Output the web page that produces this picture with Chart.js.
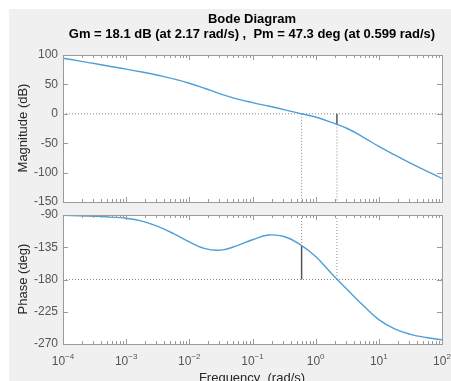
<!DOCTYPE html>
<html>
<head>
<meta charset="utf-8">
<script src="https://cdn.jsdelivr.net/npm/chart.js@4/dist/chart.umd.min.js"></script>
<style>
  html, body { margin:0; padding:0; background:#ffffff; width:451px; height:381px; overflow:hidden; }
  #fig { position:absolute; left:9px; top:9px; width:442px; height:372px; background:#f0f0f0; }
  canvas { position:absolute; left:0; top:0; }
  .txt { position:absolute; white-space:nowrap; font-family:"Liberation Sans", Arial, Helvetica, sans-serif; line-height:1; transform:translate(-50%,-50%); }
  .title { font-weight:bold; font-size:13px; color:#000; }
  .lab { font-size:13px; color:#262626; }
  .rot { transform:translate(-50%,-50%) rotate(-90deg); }
</style>
</head>
<body>
<div id="fig"></div>
<canvas id="mag" width="451" height="381"></canvas>
<canvas id="pha" width="451" height="381"></canvas>
<div class="txt title" style="left:252px; top:18px;">Bode Diagram</div>
<div class="txt title" style="left:252px; top:33px;">Gm = 18.1 dB (at 2.17 rad/s) ,&nbsp; Pm = 47.3 deg (at 0.599 rad/s)</div>
<div class="txt lab rot" style="left:22px; top:128px;">Magnitude (dB)</div>
<div class="txt lab rot" style="left:22px; top:279px;">Phase (deg)</div>
<div class="txt lab" style="left:252px; top:377px;">Frequency&nbsp; (rad/s)</div>
<script>
// ---- data, quarter-decade frequencies in rad/s ----
const freq = [1e-4, 1.778e-4, 3.162e-4, 5.623e-4, 1e-3, 1.778e-3, 3.162e-3, 5.623e-3, 1e-2, 1.778e-2, 3.162e-2, 5.623e-2, 0.1, 0.1778, 0.3162, 0.5623, 1, 1.778, 3.162, 5.623, 10, 17.78, 31.62, 56.23, 100];
const magnitudeDb = [94.5, 90, 85.5, 80.5, 76, 71, 65.5, 59.5, 52, 43, 33.5, 25.5, 19, 13.2, 7.2, 0.7, -5.5, -14.5, -25, -39.5, -55.5, -70, -84, -97, -110];
const phaseDeg = [-90.5, -91, -91.8, -93, -94.5, -98.5, -106, -116, -127.5, -137, -139, -133, -124.5, -118, -120, -131, -148, -171.5, -194, -216, -236, -249, -256.5, -261, -264];
const gainMarginDb = 18.1, gainCrossFreq = 2.17;
const phaseMarginDeg = 47.3, phaseCrossFreq = 0.599;
const magTicks = [-150, -100, -50, 0, 50, 100];
const phaseTicks = [-270, -225, -180, -135, -90];
const xDecades = [-4, -3, -2, -1, 0, 1, 2];

const FONT = '"Liberation Sans", Arial, Helvetica, sans-serif';
const xMin = 1e-4, xMax = 1e2;
const curveColor = '#4f9fd8';
const dotted = { borderColor:'#8a8a8a', borderWidth:1, borderDash:[1,2], pointRadius:0, fill:false, order:3, tension:0 };
const solid = { borderColor:'#555555', borderWidth:1.5, pointRadius:0, fill:false, order:2, tension:0 };

const pts = (ys) => freq.map((f, i) => ({ x: f, y: ys[i] }));

const framePlugin = {
  id: 'frame',
  beforeDraw(chart) {
    const a = chart.chartArea, c = chart.ctx;
    c.save(); c.fillStyle = '#ffffff';
    c.fillRect(a.left, a.top, a.right - a.left, a.bottom - a.top);
    c.restore();
  },
  afterDatasetsDraw(chart, args, opts) {
    const a = chart.chartArea, c = chart.ctx;
    const xs = chart.scales.x, ys = chart.scales.y;
    c.save();
    c.strokeStyle = '#9a9a9a'; c.lineWidth = 1;
    c.beginPath();
    for (let d = xDecades[0]; d <= xDecades[xDecades.length - 1]; d++) {
      for (let m = 1; m <= 9; m++) {
        const v = m * Math.pow(10, d);
        if (v > xMax * 1.0001) break;
        const px = Math.round(xs.getPixelForValue(v)) + 0.5;
        const len = m === 1 ? 5 : 3;
        c.moveTo(px, a.top); c.lineTo(px, a.top + len);
        c.moveTo(px, a.bottom); c.lineTo(px, a.bottom - len);
      }
    }
    (opts.yticks || []).forEach(v => {
      const py = Math.round(ys.getPixelForValue(v)) + 0.5;
      c.moveTo(a.left, py); c.lineTo(a.left + 5, py);
      c.moveTo(a.right, py); c.lineTo(a.right - 5, py);
    });
    c.stroke();
    c.strokeRect(Math.round(a.left) + 0.5, Math.round(a.top) + 0.5, Math.round(a.right - a.left), Math.round(a.bottom - a.top));
    if (opts.xlabels) {
      c.fillStyle = '#555555'; c.textBaseline = 'alphabetic';
      xDecades.forEach(d => {
        const px = xs.getPixelForValue(Math.pow(10, d));
        const base = '10', exp = String(d).replace('-', '\u2212');
        c.font = '12px ' + FONT; const wb = c.measureText(base).width;
        c.font = '8px ' + FONT; const we = c.measureText(exp).width;
        const x0 = px - (wb + we) / 2;
        c.font = '12px ' + FONT; c.textAlign = 'left';
        c.fillText(base, x0, 365);
        c.font = '8px ' + FONT;
        c.fillText(exp, x0 + wb, 359);
      });
    }
    c.restore();
  }
};

function yScale(min, max, step) {
  return {
    type: 'linear', min: min, max: max,
    afterFit: s => { s.width = 55; },
    grid: { display: false, drawTicks: false },
    border: { display: false },
    ticks: { stepSize: step, autoSkip: false, padding: 5, color: '#555555', font: { family: FONT, size: 12 } }
  };
}
const xScale = { type: 'logarithmic', min: xMin, max: xMax, display: false };

const common = (padTop, padBottom, yticks, xlabels) => ({
  responsive: false, animation: false, maintainAspectRatio: false,
  layout: { padding: { left: 8, right: 9, top: padTop, bottom: padBottom } },
  plugins: { legend: { display: false }, tooltip: { enabled: false }, frame: { yticks: yticks, xlabels: xlabels } }
});

const curve = (ys) => ({ data: pts(ys), borderColor: curveColor, borderWidth: 1.4, pointRadius: 0, fill: false, tension: 0.4, order: 0 });

new Chart(document.getElementById('mag'), {
  type: 'line',
  data: { datasets: [
    curve(magnitudeDb),
    Object.assign({ data: [{ x: xMin, y: 0 }, { x: xMax, y: 0 }] }, dotted),
    Object.assign({ data: [{ x: phaseCrossFreq, y: 0 }, { x: phaseCrossFreq, y: -150 }] }, dotted),
    Object.assign({ data: [{ x: gainCrossFreq, y: -gainMarginDb }, { x: gainCrossFreq, y: -150 }] }, dotted),
    Object.assign({ data: [{ x: gainCrossFreq, y: 0 }, { x: gainCrossFreq, y: -gainMarginDb }] }, solid)
  ] },
  options: Object.assign(common(55, 179, magTicks, false), {
    scales: { x: xScale, y: yScale(-150, 100, 50) }
  }),
  plugins: [framePlugin]
});

new Chart(document.getElementById('pha'), {
  type: 'line',
  data: { datasets: [
    curve(phaseDeg),
    Object.assign({ data: [{ x: xMin, y: -180 }, { x: xMax, y: -180 }] }, dotted),
    Object.assign({ data: [{ x: phaseCrossFreq, y: -90 }, { x: phaseCrossFreq, y: -180 + phaseMarginDeg }] }, dotted),
    Object.assign({ data: [{ x: gainCrossFreq, y: -90 }, { x: gainCrossFreq, y: -180 }] }, dotted),
    Object.assign({ data: [{ x: phaseCrossFreq, y: -180 + phaseMarginDeg }, { x: phaseCrossFreq, y: -180 }] }, solid)
  ] },
  options: Object.assign(common(215, 37, phaseTicks, true), {
    scales: { x: xScale, y: yScale(-270, -90, 45) }
  }),
  plugins: [framePlugin]
});
</script>
</body>
</html>
